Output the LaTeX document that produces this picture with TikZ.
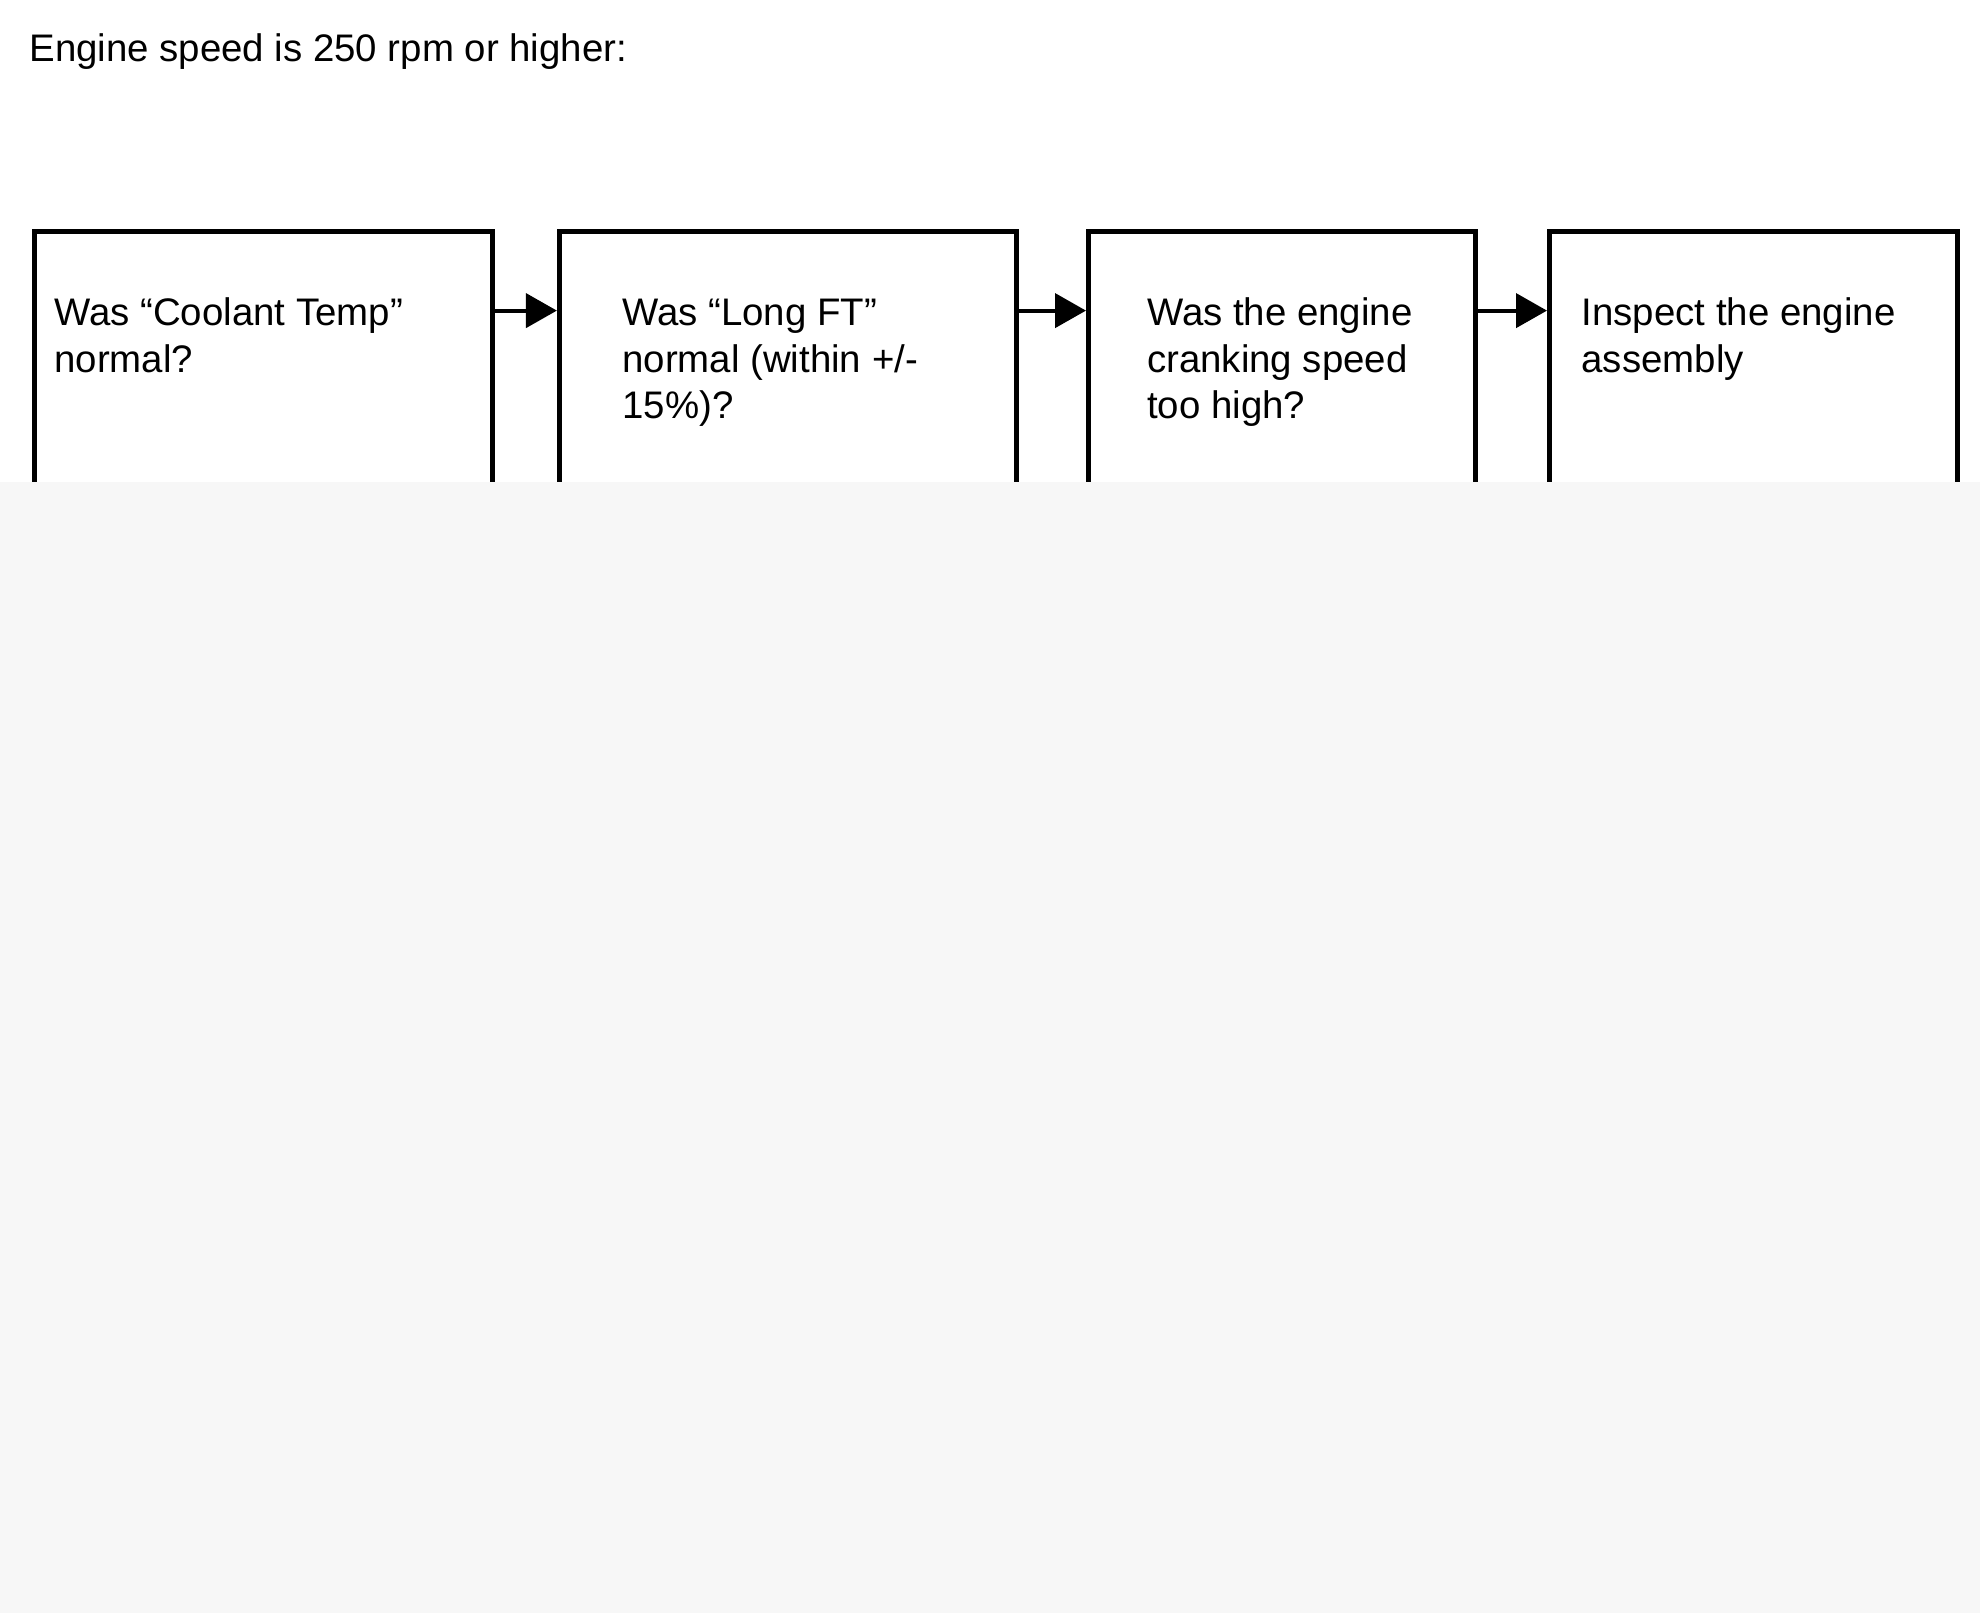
\documentclass[tikz,border=0pt]{standalone}
\usepackage{fontspec}
\setmainfont{Liberation Sans}
\usetikzlibrary{arrows.meta}
\tikzset{
  stepbox/.style={draw,line width=2.5pt,minimum height=184pt,inner sep=0pt,anchor=north west},
  steptext/.style={anchor=base west,align=left,inner sep=0pt,font=\fontsize{19.2}{23.4}\selectfont},
  steparrow/.style={line width=2.1pt,-{Triangle[length=15.5pt,width=17pt]}}
}
\begin{document}
\begin{tikzpicture}[x=1pt,y=-1pt]
\useasboundingbox (0,0) rectangle (990,806.5);
\node[steptext] (title) at (14.5,30.5) {Engine speed is 250 rpm or higher:};
\node[stepbox,minimum width=229.25pt] (coolant) at (15.75,114.25) {};
\node[stepbox,minimum width=228.6pt] (longft) at (278.45,114.25) {};
\node[stepbox,minimum width=193.25pt] (cranking) at (543,114.25) {};
\node[stepbox,minimum width=203.75pt] (inspect) at (773.5,114.25) {};
\coordinate (arrowrow) at (0,155.3);
\draw[steparrow] (coolant.east |- arrowrow) -- (longft.west |- arrowrow);
\draw[steparrow] (longft.east |- arrowrow) -- (cranking.west |- arrowrow);
\draw[steparrow] (cranking.east |- arrowrow) -- (inspect.west |- arrowrow);
\node[steptext] (coolanttext) at (27,186) {Was “Coolant Temp”\\normal?};
\node[steptext] (longfttext) at (311,209.4) {Was “Long FT”\\normal (within +/-\\15\%)?};
\node[steptext] (crankingtext) at (573.4,209.4) {Was the engine\\cranking speed\\too high?};
\node[steptext] (inspecttext) at (790.6,186) {Inspect the engine\\assembly};
\fill[gray!6] (0,241) rectangle (990,806.5);
\end{tikzpicture}
\end{document}
